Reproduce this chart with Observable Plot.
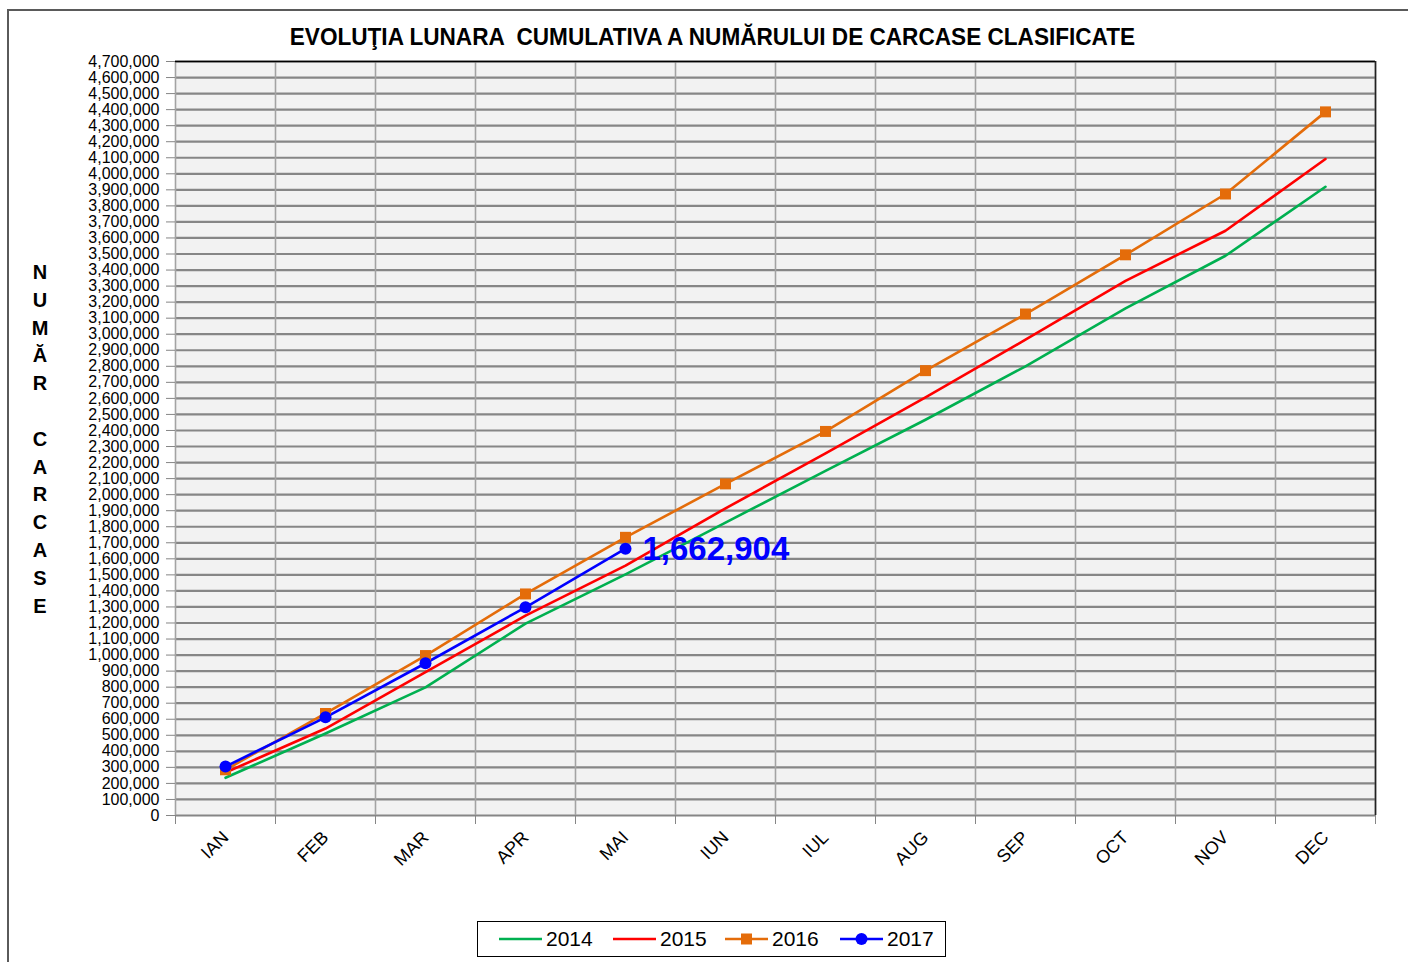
<!DOCTYPE html>
<html>
<head>
<meta charset="utf-8">
<script src="https://cdn.jsdelivr.net/npm/d3@7"></script>
<script src="https://cdn.jsdelivr.net/npm/@observablehq/plot@0.6"></script>
<style>
html, body { margin: 0; padding: 0; width: 1408px; height: 962px; overflow: hidden; background: #fff; font-family: "Liberation Sans", Arial, sans-serif; }
#frame { position: absolute; left: 7px; top: 9px; width: 1500px; height: 1100px; border: 2px solid #5a5a5a; }
#chart { position: absolute; left: 0; top: 0; }
#titlewrap { position: absolute; top: 23px; left: 0; width: 1425px; text-align: center; }
#title { display: inline-block; white-space: pre; transform: scaleX(0.922); transform-origin: 50% 50%;
  font-family: "Liberation Sans Narrow", "Arial Narrow", "Liberation Sans", Arial, sans-serif; font-weight: bold; font-size: 24.5px; color: #000; }
#ylab { position: absolute; left: 25px; top: 259px; width: 30px; text-align: center; font-weight: bold; font-size: 20px; line-height: 27.8px; white-space: pre; color: #000; }
#legend { position: absolute; left: 477px; top: 921px; width: 469px; height: 36px; border: 1px solid #000; box-sizing: border-box; background: #fff; }
.item { position: absolute; top: 0; height: 34px; display: flex; align-items: center; font-size: 21px; color: #000; }
.item svg { margin-right: 4px; }
</style>
</head>
<body>
<div id="frame"></div>
<div id="chart"></div>
<div id="titlewrap"><span id="title"></span></div>
<div id="ylab"></div>
<div id="legend"></div>
<script>
const months = ["IAN", "FEB", "MAR", "APR", "MAI", "IUN", "IUL", "AUG", "SEP", "OCT", "NOV", "DEC"];
const years = ["2014", "2015", "2016", "2017"];
const colors = ["#00b050", "#ff0000", "#e46c0a", "#0000ff"];
const v2014 = [235000, 511000, 799000, 1196000, 1503000, 1826000, 2148000, 2467000, 2800000, 3161000, 3489000, 3919000];
const v2015 = [268000, 542000, 893000, 1246000, 1558000, 1915000, 2257000, 2606000, 2966000, 3333000, 3645000, 4092000];
const v2016 = [285000, 636000, 997000, 1381000, 1734000, 2067000, 2394000, 2773000, 3126000, 3495000, 3874000, 4386000];
const v2017 = [305000, 612000, 949000, 1298000, 1662904];
const yTicks = d3.range(0, 4700001, 100000);
const titleText = "EVOLUŢIA LUNARA  CUMULATIVA A NUMĂRULUI DE CARCASE CLASIFICATE";
const yLabel = "NUMĂR CARCASE";

const series = [v2014, v2015, v2016, v2017];
const data = [];
series.forEach((arr, k) => arr.forEach((v, i) => data.push({year: years[k], i, month: months[i], value: v})));
const d2016 = data.filter(d => d.year === "2016");
const d2017 = data.filter(d => d.year === "2017");
const last2017 = d2017.slice(-1);
const xc = d => d.i + 0.5;
const fmt = d3.format(",");

const plot = Plot.plot({
  width: 1408,
  height: 900,
  marginLeft: 175,
  marginRight: 33,
  marginTop: 61,
  marginBottom: 85,
  style: {fontFamily: "'Liberation Sans', Arial, sans-serif", color: "#000", background: "transparent", overflow: "visible"},
  x: {type: "linear", domain: [0, months.length], axis: null},
  y: {domain: [0, 4700000], axis: null},
  color: {domain: years, range: colors},
  marks: [
    Plot.frame({fill: "#f2f2f2", stroke: null}),
    Plot.ruleY(yTicks, {stroke: "#868686", strokeWidth: 2.2}),
    Plot.ruleX(d3.range(0, months.length + 1), {stroke: "#a3a3a3", strokeWidth: 1.6}),
    Plot.ruleY([4700000], {stroke: "#000", strokeWidth: 1.6}),
    Plot.ruleX([months.length], {stroke: "#222", strokeWidth: 1.6}),
    Plot.axisY({ticks: yTicks, tickFormat: fmt, tickSize: 9, tickPadding: 7, fontSize: 16, stroke: "#868686", fill: "#000", label: null}),
    Plot.axisX({ticks: d3.range(0, months.length + 1), tickFormat: () => "", tickSize: 9, stroke: "#868686", label: null}),
    Plot.axisX({ticks: d3.range(months.length).map(i => i + 0.5), tickFormat: d => months[Math.round(d - 0.5)], tickSize: 0, tickPadding: 19, tickRotate: -45, fontSize: 18, fill: "#000", label: null}),
    Plot.line(data, {x: xc, y: "value", z: "year", stroke: "year", strokeWidth: 2.6}),
    Plot.dot(d2016, {x: xc, y: "value", symbol: "square", r: 6.2, fill: colors[2], stroke: null}),
    Plot.dot(d2017, {x: xc, y: "value", r: 6, fill: colors[3], stroke: null}),
    Plot.text(last2017, {x: xc, y: "value", text: d => fmt(d.value), dx: 17, dy: 1, textAnchor: "start", fill: colors[3], fontSize: 33, fontWeight: "bold"})
  ]
});
document.getElementById("chart").appendChild(plot);

document.getElementById("title").textContent = titleText;
document.getElementById("ylab").textContent = yLabel.split("").join("\n");

const legend = document.getElementById("legend");
const offsets = [21, 135, 247, 362];
years.forEach((y, k) => {
  const item = document.createElement("div");
  item.className = "item";
  item.style.left = offsets[k] + "px";
  let marker = "";
  if (k === 2) marker = `<rect x="16" y="1.5" width="11" height="11" fill="${colors[k]}"/>`;
  if (k === 3) marker = `<circle cx="21.5" cy="7" r="6" fill="${colors[k]}"/>`;
  item.innerHTML = `<svg width="43" height="14"><line x1="0" x2="43" y1="7" y2="7" stroke="${colors[k]}" stroke-width="2.6"/>${marker}</svg><span>${y}</span>`;
  legend.appendChild(item);
});
</script>
</body>
</html>
